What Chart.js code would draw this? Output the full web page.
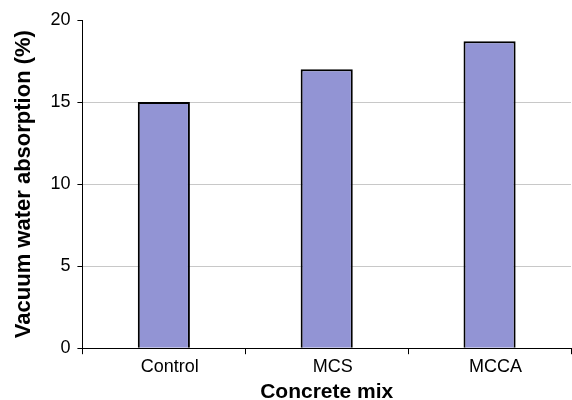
<!DOCTYPE html>
<html>
<head>
<meta charset="utf-8">
<script src="https://cdn.jsdelivr.net/npm/chart.js@4"></script>
<style>
  html, body { margin: 0; padding: 0; background: #fff; }
  #wrap { width: 572px; height: 400px; }
</style>
</head>
<body>
<div id="wrap"><canvas id="chart"></canvas></div>
<script>
const mixes = ['Control', 'MCS', 'MCCA'];
const absorption = [15.0, 17.0, 18.7];
const yTicks = [0, 5, 10, 15, 20];

const font = 'Liberation Sans, Arial, Helvetica, sans-serif';

new Chart(document.getElementById('chart'), {
  type: 'bar',
  data: {
    labels: mixes,
    datasets: [{
      data: absorption,
      backgroundColor: '#9294d4',
      borderColor: '#000',
      borderWidth: 2,
      barPercentage: 0.32,
      categoryPercentage: 1
    }]
  },
  options: {
    responsive: true,
    maintainAspectRatio: false,
    animation: false,
    layout: { padding: { top: 20, right: 1, bottom: -5, left: 7 } },
    plugins: { legend: { display: false }, tooltip: { enabled: false } },
    scales: {
      x: {
        grid: { offset: true, drawOnChartArea: false, tickLength: 6, color: '#000' },
        border: { color: '#000', width: 1 },
        ticks: { color: '#000', font: { family: font, size: 18 }, padding: 2, labelOffset: 6 },
        title: { display: true, text: 'Concrete mix', color: '#000',
                 font: { family: font, size: 21, weight: 'bold' }, padding: { top: 0, bottom: 0 } }
      },
      y: {
        min: 0,
        max: 20,
        afterBuildTicks: axis => { axis.ticks = yTicks.map(v => ({ value: v })); },
        grid: {
          tickLength: 5,
          color: ctx => (ctx.tick && (ctx.tick.value === 0 || ctx.tick.value === 20)) ? 'rgba(0,0,0,0)' : '#c8c8c8',
          tickColor: '#000'
        },
        border: { color: '#000', width: 1 },
        ticks: { color: '#000', font: { family: font, size: 18 }, padding: 7 },
        title: { display: true, text: 'Vacuum water absorption (%)', color: '#000',
                 font: { family: font, size: 22, weight: 'bold' }, padding: { bottom: 6 } }
      }
    }
  }
});
</script>
</body>
</html>
